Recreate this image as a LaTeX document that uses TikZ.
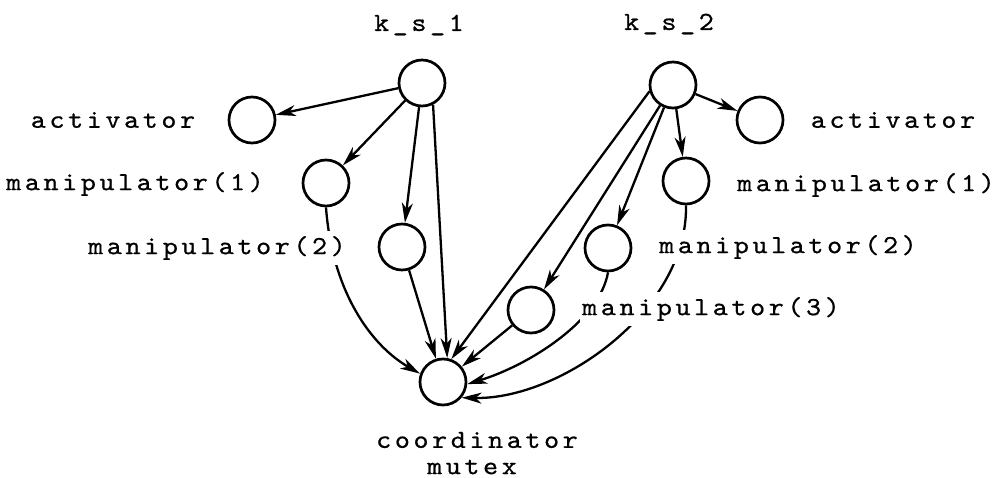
\documentclass[tikz,border=0pt]{standalone}
\usepackage{fontspec}
\usetikzlibrary{arrows.meta}
\newfontfamily\typewriter{lmmono10-regular.otf}[FakeStretch=1.1,FakeBold=0.7,LetterSpace=14]
\begin{document}
\begin{tikzpicture}[x=1pt,y=-1pt,
  state/.style={circle,draw,line width=2.7pt,minimum size=46pt,inner sep=0pt},
  lbl/.style={font=\typewriter\fontsize{26pt}{28pt}\selectfont,fill=white,inner xsep=2pt,inner ysep=5pt},
  undertext/.style={font=\typewriter\fontsize{26pt}{28pt}\selectfont,inner sep=1pt},
  link/.style={line width=2.3pt,-{Stealth[length=20pt,width=11pt,inset=6pt]}}]
\useasboundingbox (0,0) rectangle (996,478);

% processes
\node[state] (ks1) at (422,83) {};
\node[state] (ks2) at (673,85) {};
\node[state] (act1) at (252,120) {};
\node[state] (act2) at (760,120) {};
\node[state] (m11) at (326,183) {};
\node[state] (m12) at (402,247) {};
\node[state] (m21) at (686,181) {};
\node[state] (m22) at (608,248) {};
\node[state] (m23) at (531,310) {};
\node[state] (co) at (443,382) {};

% creation links of k_s_1
\draw[link] (ks1) -- (act1);
\draw[link] (ks1) -- (m11);
\draw[link] (ks1) -- (m12);
\draw[link] (ks1.-63) -- (co.80);

% creation links of k_s_2
\draw[link] (ks2) -- (act2);
\draw[link] (ks2) -- (m21);
\draw[link] (ks2) -- (m22);
\draw[link] (ks2) -- (m23);
\draw[link] (ks2.195) -- (co.70);

% links into the coordinator
\draw[link] (m11.south) .. controls (332,290) and (370,345) .. (co.160);
\draw[link] (m12) -- (co);
\draw[link] (m23) -- (co);
\draw[link] (m22.south) .. controls (600,320) and (530,365) .. (co.-5);
\draw[link] (m21.south) .. controls (688,310) and (560,400) .. (co.-40);

% names
\node[lbl] (l-ks1) at (419,25) {k\_s\_1};
\node[lbl] (l-ks2) at (669,24) {k\_s\_2};
\node[lbl] (l-act1) at (113,120) {activator};
\node[lbl] (l-m11) at (135,184) {manipulator(1)};
\node[lbl] (l-m12) at (217,248) {manipulator(2)};
\node[lbl] (l-act2) at (893,120) {activator};
\node[lbl] (l-m21) at (866,185) {manipulator(1)};
\node[lbl] (l-m22) at (788,247) {manipulator(2)};
\node[lbl] (l-m23) at (711,309) {manipulator(3)};
\node[undertext] (l-co1) at (477,440) {coordinator};
\node[undertext] (l-co2) at (472,467) {mutex};
\end{tikzpicture}
\end{document}
